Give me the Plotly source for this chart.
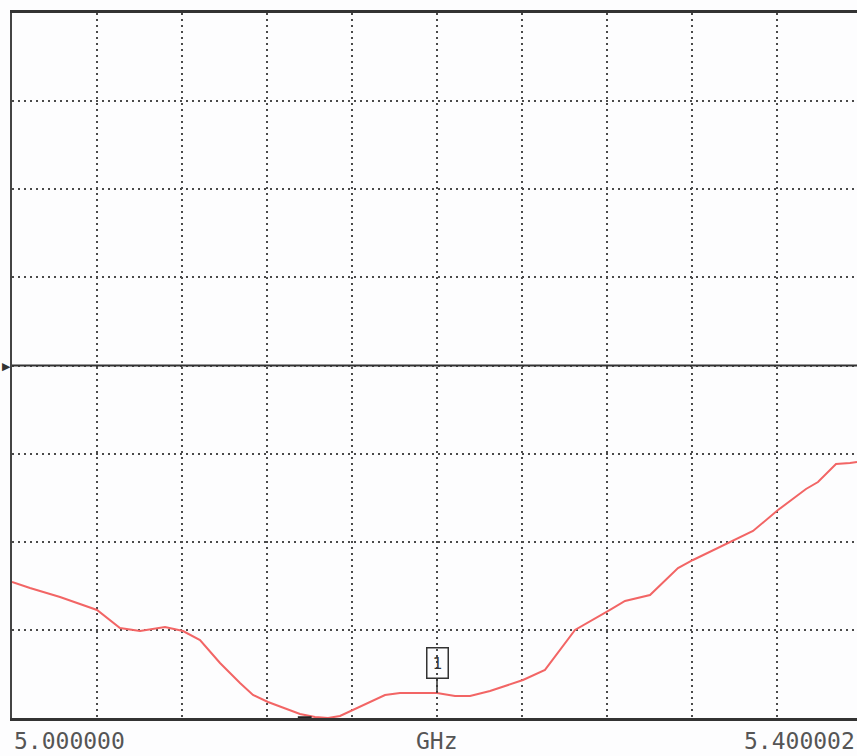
import plotly.graph_objects as go

# Frequency (GHz) and trace value (screen divisions above bottom graticule line)
freq_ghz = [5.0000, 5.00847, 5.02259, 5.0400, 5.05082, 5.06024, 5.0720, 5.08047, 5.08847,
            5.09788, 5.10729, 5.11341, 5.12047, 5.12847, 5.13553, 5.14259, 5.14871, 5.15435,
            5.16047, 5.16847, 5.17553, 5.18259, 5.2000, 5.20847, 5.21553, 5.22494, 5.24047,
            5.25082, 5.26024, 5.26494, 5.28141, 5.28847, 5.30024, 5.31341, 5.32047, 5.33694,
            5.34871, 5.36047, 5.37365, 5.37929, 5.38776, 5.39435, 5.39765]
trace_div = [1.543, 1.475, 1.373, 1.226, 1.021, 0.987, 1.033, 0.987, 0.885,
             0.624, 0.397, 0.261, 0.182, 0.114, 0.045, 0.011, 0.0, 0.023,
             0.091, 0.182, 0.261, 0.284, 0.284, 0.250, 0.250, 0.306, 0.431,
             0.545, 0.851, 0.999, 1.226, 1.328, 1.396, 1.702, 1.793, 1.986,
             2.122, 2.360, 2.599, 2.678, 2.882, 2.894, 2.905]

start_label = "5.000000"
stop_label = "5.400002"
unit_label = "GHz"
marker_freq = 5.2
marker_val = 0.284
marker_label = "1"
ref_div = 4

x_ticks = [5.0 + 0.04 * i for i in range(11)]
y_ticks = list(range(9))

fig = go.Figure()
fig.add_trace(go.Scatter(x=freq_ghz, y=trace_div, mode="lines",
                         line=dict(color="#f26565", width=2), hoverinfo="skip"))

grid_col = "#4a4a4a"
fig.update_layout(
    width=857, height=756,
    margin=dict(l=12, r=0, t=13, b=38),
    paper_bgcolor="#fdfdfe", plot_bgcolor="#fdfdfe",
    showlegend=False,
    xaxis=dict(range=[5.0, 5.0 + 845 / 850 * 0.4], tickvals=x_ticks, showticklabels=False,
               showgrid=True, gridcolor=grid_col, griddash="2px,4px", gridwidth=1.5,
               zeroline=False, showline=True, mirror=True, linecolor="#333", linewidth=2.5,
               ticks=""),
    yaxis=dict(range=[0, 8], tickvals=y_ticks, showticklabels=False,
               showgrid=True, gridcolor=grid_col, griddash="2px,4px", gridwidth=1.5,
               zeroline=False, showline=True, mirror=False, linecolor="#444", linewidth=2,
               ticks=""),
)

# reference line
fig.add_shape(type="line", xref="paper", x0=0, x1=1, yref="y", y0=ref_div, y1=ref_div,
              line=dict(color="#333", width=2))
# reference arrow at left
fig.add_annotation(xref="paper", x=0, yref="y", y=ref_div, text="▶", showarrow=False,
                   xanchor="right", font=dict(size=11, color="#333"), xshift=1)
# small dark mark at bottom near minimum
fig.add_shape(type="line", xref="x", x0=5.1345, x1=5.1410, yref="y", y0=0, y1=0,
              line=dict(color="#222", width=3.5))

# marker 1
fig.add_annotation(x=marker_freq, y=marker_val, text=marker_label, showarrow=True,
                   arrowhead=0, arrowwidth=1.5, arrowcolor="#333", ax=0, ay=-30,
                   bordercolor="#333", borderwidth=1.5, borderpad=5, bgcolor="rgba(0,0,0,0)",
                   font=dict(family="DejaVu Sans Mono", size=16, color="#333"))

lab_font = dict(family="DejaVu Sans Mono", size=23, color="#555")
fig.add_annotation(xref="paper", x=0, yref="paper", y=0, yshift=-38, yanchor="bottom",
                   xanchor="left", text=start_label, showarrow=False, font=lab_font)
fig.add_annotation(xref="x", x=5.2, yref="paper", y=0, yshift=-38, yanchor="bottom",
                   xanchor="center", text=unit_label, showarrow=False, font=lab_font)
fig.add_annotation(xref="paper", x=1, xshift=0, yref="paper", y=0, yshift=-38, yanchor="bottom",
                   xanchor="right", text=stop_label, showarrow=False, font=lab_font)

fig.write_html("out.html", config={"displayModeBar": False},
               post_script="document.body.style.margin='0';document.body.style.overflow='hidden';")
